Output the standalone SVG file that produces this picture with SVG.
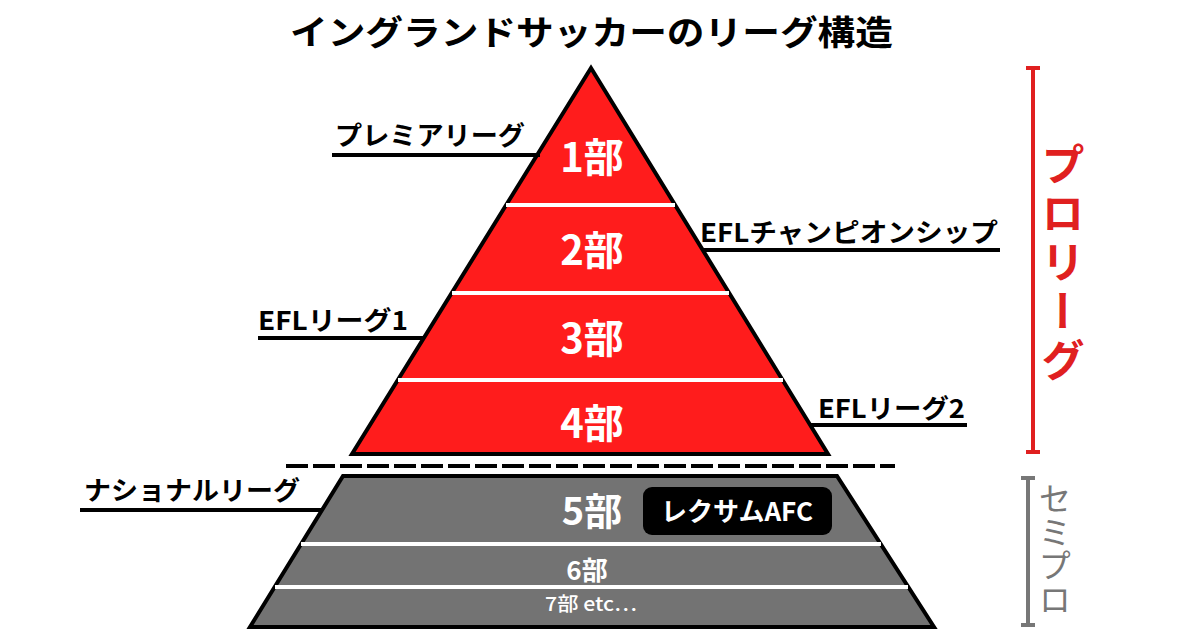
<svg xmlns="http://www.w3.org/2000/svg" width="1200" height="630" viewBox="0 0 1200 630">
<style>
text{font-family:"Noto Sans CJK JP","Noto Sans",sans-serif;}
.title{font-size:34px;font-weight:700;fill:#000;}
.lbl{font-size:26px;font-weight:700;fill:#000;}
.ul{stroke:#000;stroke-width:4;fill:none;}
.tier{font-weight:700;fill:#fff;text-anchor:middle;}
.sep{stroke:#fff;stroke-width:4;}
</style>
<rect width="1200" height="630" fill="#fff"/>
<text class="title" x="290" y="45" textLength="603" lengthAdjust="spacingAndGlyphs">イングランドサッカーのリーグ構造</text>

<g id="pro-pyramid">
<polygon points="591,68 352,454 828,454" fill="#ff1c1c" stroke="#000" stroke-width="4" stroke-linejoin="miter"/>
<line class="sep" x1="506" y1="205" x2="675" y2="205"/>
<line class="sep" x1="452" y1="293" x2="729" y2="293"/>
<line class="sep" x1="398" y1="380" x2="783" y2="380"/>
</g>
<g id="tier1"><text class="tier" x="592" y="172" font-size="40">1部</text></g>
<g id="tier2"><text class="tier" x="592" y="265" font-size="40">2部</text></g>
<g id="tier3"><text class="tier" x="592" y="353" font-size="40">3部</text></g>
<g id="tier4"><text class="tier" x="592" y="438" font-size="40">4部</text></g>

<line x1="286" y1="466" x2="895" y2="466" stroke="#000" stroke-width="4" stroke-dasharray="22,5"/>

<g id="semi-pyramid">
<polygon points="343,476 837,476 934,627 250,627" fill="#737373" stroke="#000" stroke-width="4"/>
<line class="sep" x1="301" y1="544" x2="881" y2="544"/>
<line class="sep" x1="275" y1="587" x2="908" y2="587"/>
</g>
<g id="tier5"><text class="tier" x="592" y="525" font-size="38">5部</text></g>
<g id="wrexham">
<rect x="643" y="487" width="189" height="48" rx="9" fill="#000"/>
<text x="737" y="521" font-size="26" font-weight="700" fill="#fff" text-anchor="middle">レクサムAFC</text>
</g>
<g id="tier6"><text class="tier" x="587" y="580" font-size="26">6部</text></g>
<g id="tier7"><text x="545" y="611" font-size="19" font-weight="500" fill="#fff" textLength="92" lengthAdjust="spacingAndGlyphs">7部 etc…</text></g>

<g id="connectors">
<line class="ul" x1="332" y1="155" x2="540" y2="155"/>
<line class="ul" x1="703" y1="250" x2="1000" y2="250"/>
<line class="ul" x1="258" y1="338" x2="425" y2="338"/>
<line class="ul" x1="810" y1="425" x2="967" y2="425"/>
<line class="ul" x1="80" y1="510" x2="322" y2="510"/>
</g>
<g id="label-premier"><text class="lbl" x="335" y="145" textLength="190" lengthAdjust="spacingAndGlyphs">プレミアリーグ</text></g>
<g id="label-championship"><text class="lbl" x="700" y="242" textLength="298" lengthAdjust="spacingAndGlyphs">EFLチャンピオンシップ</text></g>
<g id="label-league1"><text class="lbl" x="258" y="330" textLength="150" lengthAdjust="spacingAndGlyphs">EFLリーグ1</text></g>
<g id="label-league2"><text class="lbl" x="818" y="418" textLength="147" lengthAdjust="spacingAndGlyphs">EFLリーグ2</text></g>
<g id="label-national"><text class="lbl" x="84" y="500" textLength="216" lengthAdjust="spacingAndGlyphs">ナショナルリーグ</text></g>

<g id="bracket-pro" stroke="#e02020" stroke-width="4">
<line x1="1033" y1="68" x2="1033" y2="452"/>
<line x1="1026" y1="68" x2="1040" y2="68"/>
<line x1="1026" y1="452" x2="1040" y2="452"/>
</g>
<g id="label-pro"><text x="1063" y="142" font-size="44" font-weight="700" fill="#e02020" style="writing-mode:vertical-rl;text-orientation:mixed" textLength="240" lengthAdjust="spacing">プロリーグ</text></g>
<g id="bracket-semi" stroke="#777" stroke-width="4">
<line x1="1028" y1="478" x2="1028" y2="625"/>
<line x1="1021" y1="478" x2="1035" y2="478"/>
<line x1="1021" y1="625" x2="1035" y2="625"/>
</g>
<g id="label-semi"><text x="1055" y="482" font-size="33" font-weight="400" fill="#777" style="writing-mode:vertical-rl" textLength="134" lengthAdjust="spacing">セミプロ</text></g>
</svg>
